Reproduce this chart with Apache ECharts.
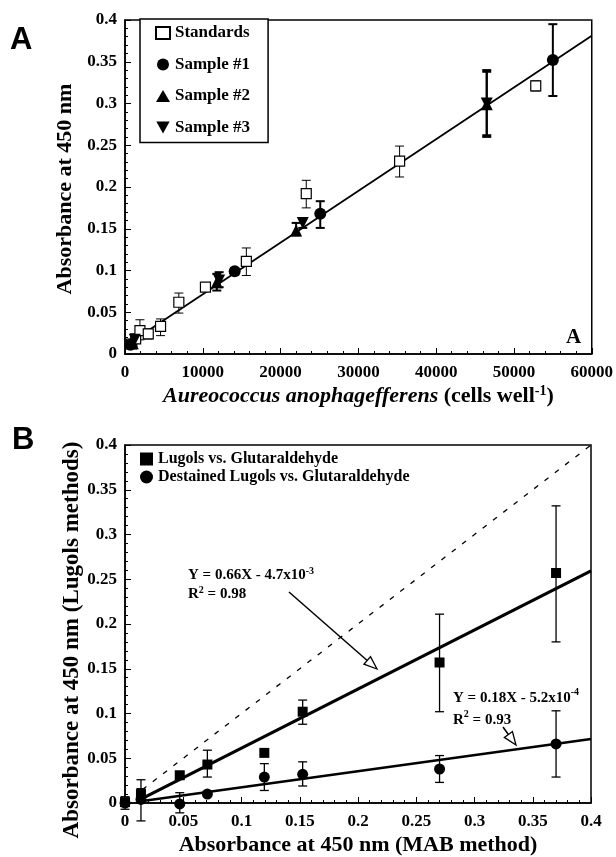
<!DOCTYPE html>
<html>
<head>
<meta charset="utf-8">
<script src="https://cdn.jsdelivr.net/npm/echarts@6/dist/echarts.min.js"></script>
<style>
html, body { margin: 0; padding: 0; background: #fff; }
#chart { width: 616px; height: 857px; }
</style>
</head>
<body>
<div id="chart"></div>
<script>
// ---- panel A: cells per well vs absorbance ----
var stdX  = [850, 1370, 1920, 2990, 4570, 6920, 10340, 15600, 23300, 35300, 52800];
var stdY  = [0.012, 0.018, 0.028, 0.024, 0.033, 0.062, 0.080, 0.111, 0.192, 0.231, 0.321];
var stdLo = [0.009, 0.014, 0.017, 0.018, 0.022, 0.049, 0.077, 0.094, 0.175, 0.212, 0.315];
var stdHi = [0.015, 0.022, 0.041, 0.030, 0.042, 0.073, 0.083, 0.127, 0.208, 0.249, 0.327];

var s1X  = [700, 14100, 25100, 55000];
var s1Y  = [0.011, 0.099, 0.168, 0.352];
var s1Lo = [0.008, 0.095, 0.151, 0.309];
var s1Hi = [0.014, 0.103, 0.183, 0.395];

var s2X  = [1000, 11800, 22000, 46500];
var s2Y  = [0.013, 0.086, 0.148, 0.299];
var s2Lo = [0.010, 0.076, 0.142, 0.260];
var s2Hi = [0.017, 0.096, 0.157, 0.340];

var s3X  = [1250, 12100, 22850, 46500];
var s3Y  = [0.017, 0.088, 0.157, 0.300];
var s3Lo = [0.013, 0.080, 0.151, 0.262];
var s3Hi = [0.021, 0.098, 0.162, 0.338];

var fitAX = [0, 60000];
var fitAY = [0.0095, 0.381];

// ---- panel B: Lugols vs MAB ----
var mabX   = [0, 0.0137, 0.047, 0.0707, 0.1196, 0.1525, 0.27, 0.37];
var lugY   = [0.001, 0.010, 0.031, 0.043, 0.056, 0.102, 0.157, 0.257];
var lugLo  = [-0.003, 0.004, 0.028, 0.029, 0.054, 0.088, 0.102, 0.180];
var lugHi  = [0.004, 0.016, 0.034, 0.059, 0.058, 0.115, 0.211, 0.332];
var desY   = [0.0, 0.004, -0.001, 0.010, 0.029, 0.032, 0.038, 0.066];
var desLo  = [-0.007, -0.020, -0.011, 0.008, 0.014, 0.019, 0.023, 0.029];
var desHi  = [0.007, 0.026, 0.0115, 0.012, 0.044, 0.046, 0.053, 0.103];

var fitLugX = [0.012, 0.4];
var fitLugY = [0.0032, 0.2593];
var fitDesX = [0.012, 0.4];
var fitDesY = [0.0016, 0.0715];
var oneX = [0.015, 0.4];
var oneY = [0.015, 0.4];

function pts(xs, ys) {
    return xs.map(function (x, i) { return [x, ys[i]]; });
}
function bars(xs, lo, hi) {
    return xs.map(function (x, i) { return [x, lo[i], hi[i]]; });
}

var serif = 'Liberation Serif';
var triDown = 'path://M0,0 L10,0 L5,9 Z';

function errorBar(cap, width) {
    return function (params, api) {
        var lo = api.coord([api.value(0), api.value(1)]);
        var hi = api.coord([api.value(0), api.value(2)]);
        var st = { stroke: '#000', lineWidth: width };
        return {
            type: 'group',
            children: [
                { type: 'line', shape: { x1: lo[0], y1: lo[1], x2: hi[0], y2: hi[1] }, style: st },
                { type: 'line', shape: { x1: lo[0] - cap, y1: lo[1], x2: lo[0] + cap, y2: lo[1] }, style: st },
                { type: 'line', shape: { x1: hi[0] - cap, y1: hi[1], x2: hi[0] + cap, y2: hi[1] }, style: st }
            ]
        };
    };
}

function errSeries(data, idx, cap, width) {
    return {
        type: 'custom',
        xAxisIndex: idx, yAxisIndex: idx,
        renderItem: errorBar(cap, width),
        encode: { x: 0, y: [1, 2] },
        data: data,
        silent: true,
        z: 2
    };
}

function arrow(x1, y1, x2, y2) {
    var dx = x2 - x1, dy = y2 - y1;
    var len = Math.sqrt(dx * dx + dy * dy);
    var ux = dx / len, uy = dy / len;
    var L = 13, W = 5;
    var bx = x2 - ux * L, by = y2 - uy * L;
    return [
        { type: 'line', shape: { x1: x1, y1: y1, x2: bx, y2: by }, style: { stroke: '#000', lineWidth: 1.5 }, z: 10 },
        { type: 'polygon', shape: { points: [[x2, y2], [bx - uy * W, by + ux * W], [bx + uy * W, by - ux * W]] },
          style: { fill: '#fff', stroke: '#000', lineWidth: 1.3 }, z: 10 }
    ];
}

function plain(v) { return String(v); }

function xAxisCfg(idx, max, interval, name, gap) {
    return {
        type: 'value', gridIndex: idx, min: 0, max: max, interval: interval,
        name: name, nameLocation: 'middle', nameGap: gap,
        nameTextStyle: {
            fontFamily: serif, fontWeight: 'bold', fontSize: 22, color: '#000',
            rich: {
                i: { fontFamily: serif, fontWeight: 'bold', fontStyle: 'italic', fontSize: 22, color: '#000' },
                sup: { fontFamily: serif, fontWeight: 'bold', fontSize: 14, color: '#000', verticalAlign: 'top', padding: [0, 0, 10, 0] }
            }
        },
        axisLine: { lineStyle: { color: '#000', width: 1.5 } },
        axisTick: { inside: true, length: 6, lineStyle: { color: '#000', width: 1 } },
        minorTick: { show: true, splitNumber: 5, length: 3, lineStyle: { color: '#000' } },
        axisLabel: { margin: 10, fontFamily: serif, fontWeight: 'bold', fontSize: 17, color: '#000', formatter: plain },
        splitLine: { show: false }
    };
}
function yAxisCfg(idx) {
    return {
        type: 'value', gridIndex: idx, min: 0, max: 0.4, interval: 0.05,
        axisLine: { lineStyle: { color: '#000', width: 1.5 } },
        axisTick: { inside: true, length: 6, lineStyle: { color: '#000', width: 1 } },
        minorTick: { show: true, splitNumber: 5, length: 3, lineStyle: { color: '#000' } },
        axisLabel: { margin: 8, fontFamily: serif, fontWeight: 'bold', fontSize: 17, color: '#000', formatter: plain },
        splitLine: { show: false }
    };
}

var option = {
    backgroundColor: '#fff',
    animation: false,
    grid: [
        { left: 125, top: 20, width: 468, height: 334, show: true, borderColor: '#000', borderWidth: 1.5 },
        { left: 125, top: 445, width: 466, height: 358, show: true, borderColor: '#000', borderWidth: 1.5 }
    ],
    xAxis: [
        xAxisCfg(0, 60000, 10000, '{i|Aureococcus anophagefferens} (cells well{sup|-1})', 30),
        xAxisCfg(1, 0.4, 0.05, 'Absorbance at 450 nm (MAB method)', 31)
    ],
    yAxis: [yAxisCfg(0), yAxisCfg(1)],
    legend: [
        {
            data: ['Standards', 'Sample #1', 'Sample #2', 'Sample #3'],
            orient: 'vertical', left: 140, top: 19,
            padding: [4, 18, 5, 15],
            itemGap: 11.5, itemWidth: 14, itemHeight: 12, itemTextGap: 10,
            borderColor: '#000', borderWidth: 1.5, backgroundColor: '#fff',
            textStyle: { fontFamily: serif, fontWeight: 'bold', fontSize: 17, lineHeight: 20, color: '#000' }
        },
        {
            data: ['Lugols vs. Glutaraldehyde', 'Destained Lugols vs. Glutaraldehyde'],
            orient: 'vertical', left: 140, top: 451, padding: 0,
            itemGap: 2, itemWidth: 13, itemHeight: 13, itemTextGap: 10,
            textStyle: { fontFamily: serif, fontWeight: 'bold', fontSize: 16, lineHeight: 16, color: '#000' }
        }
    ],
    graphic: [
        { type: 'text', left: 10, top: 25, style: { text: 'A', fontFamily: 'Liberation Sans', fontWeight: 'bold', fontSize: 31, fill: '#000' } },
        { type: 'text', left: 12, top: 425, style: { text: 'B', fontFamily: 'Liberation Sans', fontWeight: 'bold', fontSize: 31, fill: '#000' } },
        { type: 'text', x: 566, y: 327, style: { text: 'A', fontFamily: serif, fontWeight: 'bold', fontSize: 21, fill: '#000' } },
        { type: 'text', x: 65, y: 189, rotation: Math.PI / 2,
          style: { text: 'Absorbance at 450 nm', fontFamily: serif, fontWeight: 'bold', fontSize: 22, fill: '#000', align: 'center', verticalAlign: 'middle' } },
        { type: 'text', x: 72, y: 640, rotation: Math.PI / 2,
          style: { text: 'Absorbance at 450 nm (Lugols methods)', fontFamily: serif, fontWeight: 'bold', fontSize: 23, fill: '#000', align: 'center', verticalAlign: 'middle' } },
        { type: 'text', x: 188, y: 566, z: 10,
          style: { text: 'Y = 0.66X - 4.7x10{sup|-3}\nR{sup|2} = 0.98', fontFamily: serif, fontWeight: 'bold', fontSize: 15, lineHeight: 19, fill: '#000',
                   rich: { sup: { fontFamily: serif, fontWeight: 'bold', fontSize: 10, verticalAlign: 'top', fill: '#000' } } } },
        { type: 'text', x: 453, y: 687, z: 10,
          style: { text: 'Y = 0.18X - 5.2x10{sup|-4}\nR{sup|2} = 0.93', fontFamily: serif, fontWeight: 'bold', fontSize: 15, lineHeight: 22, fill: '#000',
                   rich: { sup: { fontFamily: serif, fontWeight: 'bold', fontSize: 10, verticalAlign: 'top', fill: '#000' } } } }
    ].concat(arrow(289, 592, 377, 669), arrow(503, 727, 516, 745)),
    series: [
        errSeries(bars(stdX, stdLo, stdHi), 0, 4.5, 1),
        errSeries(bars(s1X, s1Lo, s1Hi), 0, 4.5, 2),
        errSeries(bars(s2X, s2Lo, s2Hi), 0, 4.5, 2),
        errSeries(bars(s3X, s3Lo, s3Hi), 0, 4.5, 2),
        {
            type: 'line', xAxisIndex: 0, yAxisIndex: 0, data: pts(fitAX, fitAY),
            symbol: 'none', lineStyle: { color: '#000', width: 1.8 }, silent: true, z: 3
        },
        {
            name: 'Standards', type: 'scatter', xAxisIndex: 0, yAxisIndex: 0, data: pts(stdX, stdY),
            symbol: 'rect', symbolSize: 10, clip: false,
            itemStyle: { color: '#fff', borderColor: '#000', borderWidth: 1.2, opacity: 1 }, z: 4
        },
        {
            name: 'Sample #1', type: 'scatter', xAxisIndex: 0, yAxisIndex: 0, data: pts(s1X, s1Y),
            symbol: 'circle', symbolSize: 12, clip: false, itemStyle: { color: '#000', opacity: 1 }, z: 5
        },
        {
            name: 'Sample #2', type: 'scatter', xAxisIndex: 0, yAxisIndex: 0, data: pts(s2X, s2Y),
            symbol: 'triangle', symbolSize: 12, clip: false, itemStyle: { color: '#000', opacity: 1 }, z: 5
        },
        {
            name: 'Sample #3', type: 'scatter', xAxisIndex: 0, yAxisIndex: 0, data: pts(s3X, s3Y),
            symbol: triDown, symbolSize: 12, clip: false, itemStyle: { color: '#000', opacity: 1 }, z: 5
        },
        // panel B
        errSeries(bars(mabX, lugLo, lugHi), 1, 4.5, 1.3),
        errSeries(bars(mabX, desLo, desHi), 1, 4.5, 1.3),
        {
            type: 'line', xAxisIndex: 1, yAxisIndex: 1, data: pts(oneX, oneY),
            symbol: 'none', lineStyle: { color: '#000', width: 1.3, type: [5, 8] }, silent: true, z: 3
        },
        {
            type: 'line', xAxisIndex: 1, yAxisIndex: 1, data: pts(fitLugX, fitLugY),
            symbol: 'none', lineStyle: { color: '#000', width: 3.2 }, silent: true, z: 3
        },
        {
            type: 'line', xAxisIndex: 1, yAxisIndex: 1, data: pts(fitDesX, fitDesY),
            symbol: 'none', lineStyle: { color: '#000', width: 2.5 }, silent: true, z: 3
        },
        {
            name: 'Lugols vs. Glutaraldehyde', type: 'scatter', xAxisIndex: 1, yAxisIndex: 1, data: pts(mabX, lugY),
            symbol: 'rect', symbolSize: 10, clip: false, itemStyle: { color: '#000', opacity: 1 }, z: 5
        },
        {
            name: 'Destained Lugols vs. Glutaraldehyde', type: 'scatter', xAxisIndex: 1, yAxisIndex: 1, data: pts(mabX, desY),
            symbol: 'circle', symbolSize: 11, clip: false, itemStyle: { color: '#000', opacity: 1 }, z: 5
        }
    ]
};

var chart = echarts.init(document.getElementById('chart'), null, { renderer: 'canvas' });
chart.setOption(option);
</script>
</body>
</html>
